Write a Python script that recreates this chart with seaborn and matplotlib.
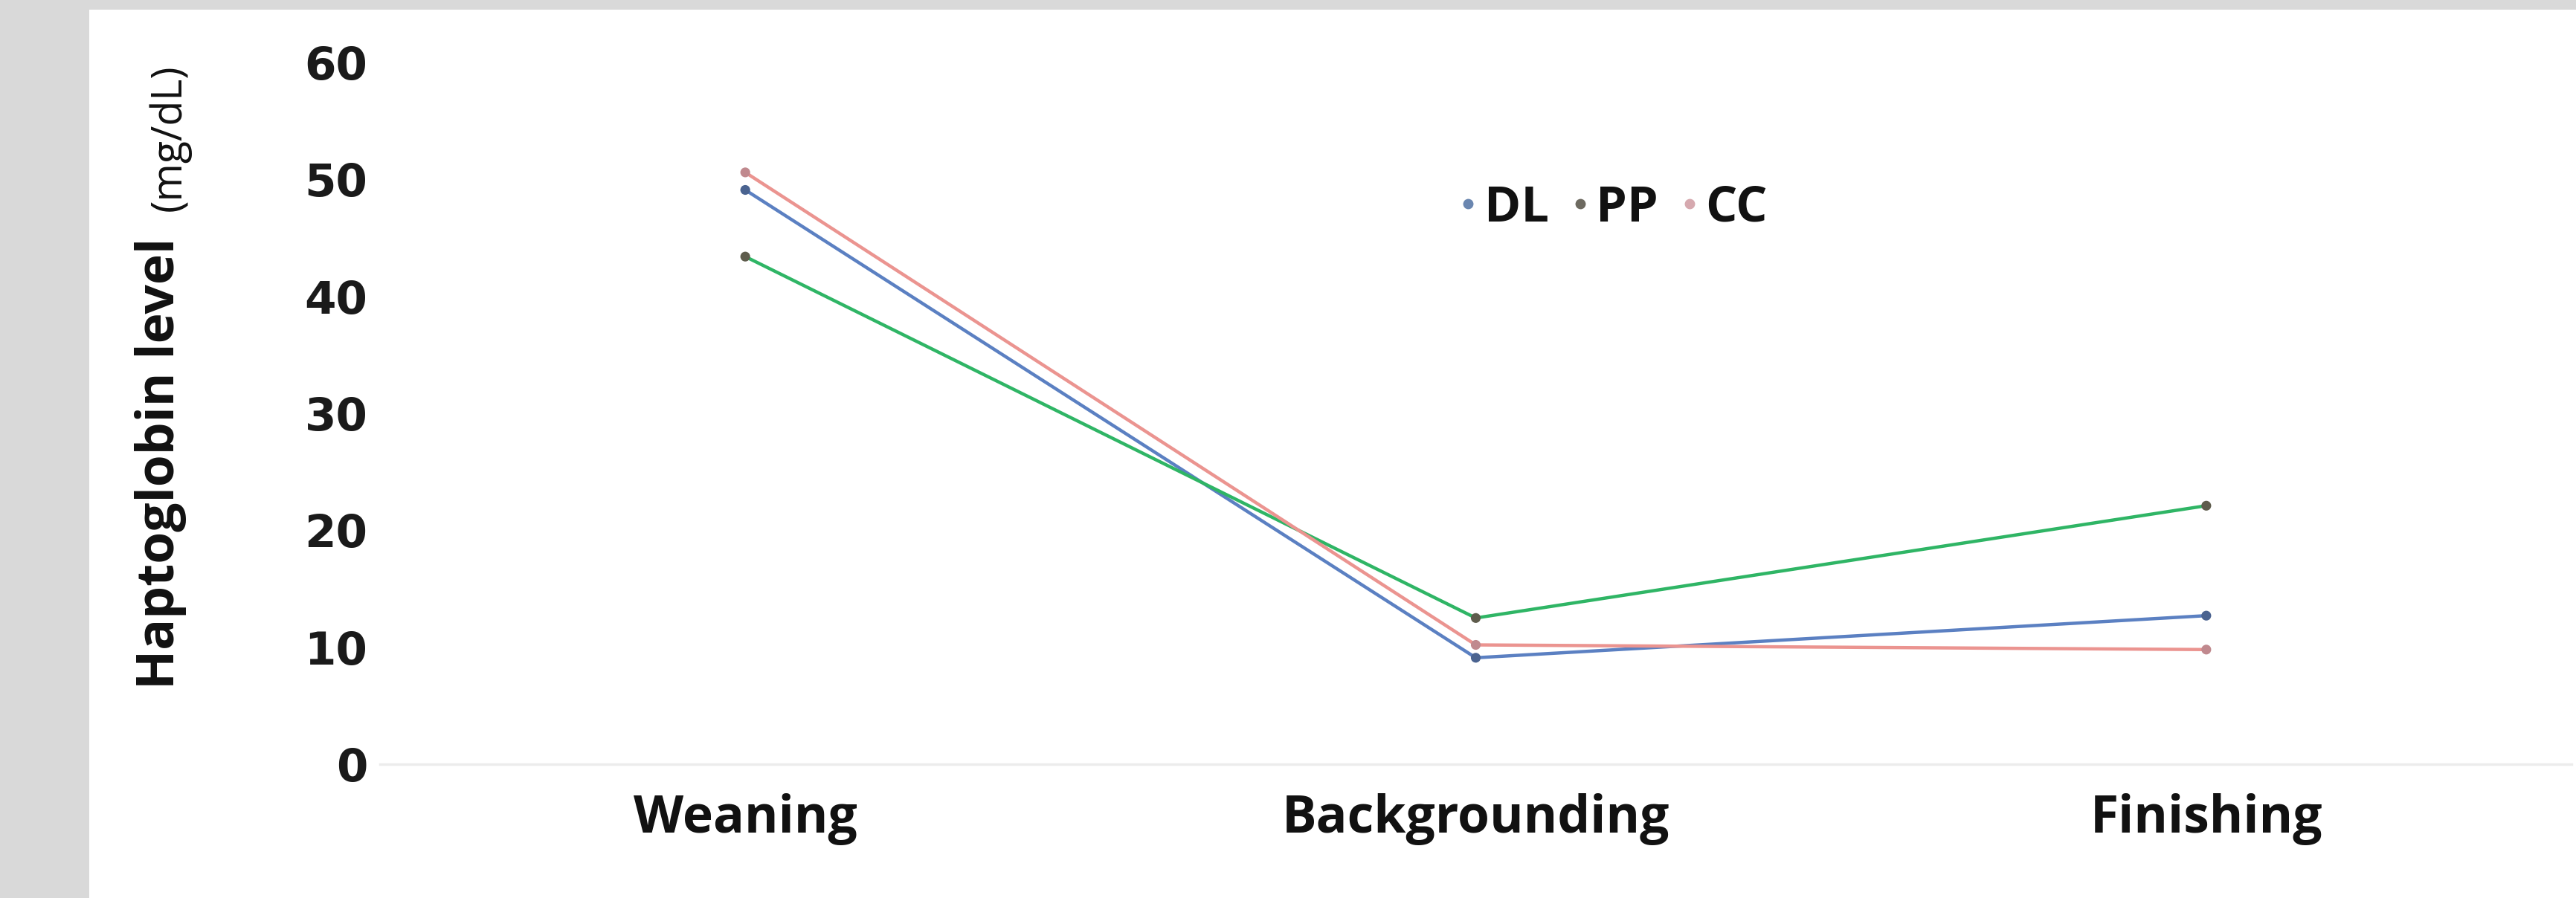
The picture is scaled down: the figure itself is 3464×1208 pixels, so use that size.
import matplotlib
matplotlib.use("Agg")
import matplotlib.pyplot as plt
from matplotlib.patches import Rectangle
from matplotlib.lines import Line2D
import seaborn as sns
import pandas as pd

# ---- data ----
stages = ["Weaning", "Backgrounding", "Finishing"]
series_names = ["DL", "PP", "CC"]
dl_values = [49.1, 9.1, 12.7]
pp_values = [43.4, 12.5, 22.1]
cc_values = [50.6, 10.2, 9.8]
y_ticks = [0, 10, 20, 30, 40, 50, 60]

line_colors = {"DL": "#5b80c2", "PP": "#2fb565", "CC": "#eb9490"}
marker_colors = {"DL": "#4a6390", "PP": "#5e5c4c", "CC": "#c0898e"}
legend_colors = {"DL": "#6a86b0", "PP": "#6d6a60", "CC": "#d6a9af"}

df = pd.DataFrame({
    "stage": stages * 3,
    "series": [s for s in series_names for _ in stages],
    "value": dl_values + pp_values + cc_values,
})

sns.set_style("white")
plt.rcParams["font.family"] = ["Open Sans", "DejaVu Sans"]

W, H = 3464, 1208
fig = plt.figure(figsize=(W / 100, H / 100), dpi=100)
fig.patch.set_facecolor("#d9d9d9")
fig.patches.append(Rectangle((120 / W, 0), 1, 1 - 13 / H, transform=fig.transFigure,
                             facecolor="white", edgecolor="none", zorder=-10))

left, right = 511 / W, 3458 / W
bottom, top = 1 - 1028 / H, 1 - 84 / H
ax = fig.add_axes([left, bottom, right - left, top - bottom])
ax.set_facecolor("none")
ax.set_zorder(5)

sns.lineplot(data=df, x="stage", y="value", hue="series", palette=line_colors,
             sort=False, linewidth=3.2, legend=False, ax=ax)
sns.scatterplot(data=df, x="stage", y="value", hue="series", palette=marker_colors,
                s=90, edgecolor="none", legend=False, ax=ax, zorder=5)

ax.set_xlim(-0.5, 2.5)
ax.set_ylim(0, 60)
ax.set_yticks(y_ticks)
ax.set_yticklabels([str(t) for t in y_ticks], fontsize=44, fontweight="bold",
                   family="DejaVu Sans", color="#1a1a1a")
ax.set_xticks(range(len(stages)))
ax.set_xticklabels(stages, fontsize=50, fontweight="bold", color="#111111")
ax.tick_params(axis="both", length=0)
ax.tick_params(axis="y", pad=12)
ax.tick_params(axis="x", pad=28)
ax.set_xlabel("")
ax.set_ylabel("")
for s in ["top", "right", "left"]:
    ax.spines[s].set_visible(False)
ax.spines["bottom"].set_color("#ececec")
ax.spines["bottom"].set_linewidth(2.5)

# y-axis label
fig.text(216 / W, 1 - 623 / H, "Haptoglobin level", rotation=90, ha="center", va="center",
         fontsize=50, fontweight="bold", color="#111111")
fig.text(228 / W, 1 - 185 / H, "(mg/dL)", rotation=90, ha="center", va="center",
         fontsize=40, color="#111111")

handles = [Line2D([], [], marker="o", linestyle="None", markersize=10,
                  markerfacecolor=legend_colors[s], markeredgecolor="none") for s in series_names]
leg = ax.legend(handles, series_names, loc="center", bbox_to_anchor=(2170 / W, 1 - 280 / H),
                bbox_transform=fig.transFigure, ncol=3, frameon=False,
                handlelength=0.35, handletextpad=0.15, columnspacing=0.45,
                prop={"family": "Open Sans", "weight": "bold", "size": 48})
for t in leg.get_texts():
    t.set_color("#111111")

fig.savefig("out.png", dpi=100, facecolor=fig.get_facecolor())
